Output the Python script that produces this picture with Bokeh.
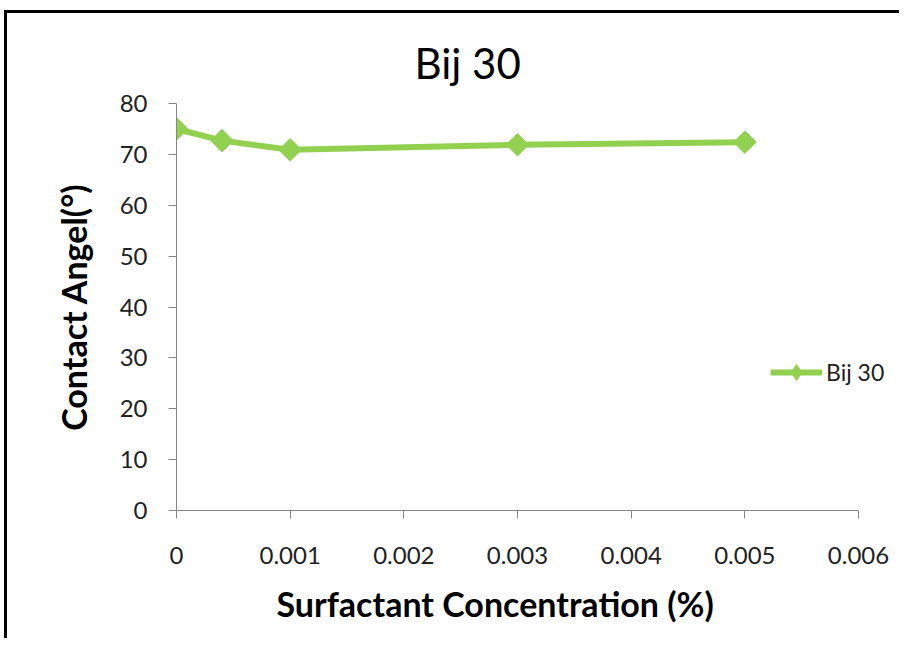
import numpy as np
from bokeh.plotting import figure
from bokeh.models import ColumnDataSource, Legend, LegendItem, Range1d, FixedTicker, Title
from bokeh.embed import file_html
from bokeh.resources import INLINE

# data
concentration = [0.0, 0.0004, 0.001, 0.003, 0.005]
contact_angle = [75.0, 72.7, 70.9, 71.9, 72.4]
series_name = "Bij 30"
x_title = "Surfactant Concentration (%)"
y_title = "Contact Angel(°)"
x_ticks = [0, 0.001, 0.002, 0.003, 0.004, 0.005, 0.006]
x_tick_labels = ["0", "0.001", "0.002", "0.003", "0.004", "0.005", "0.006"]
y_ticks = [0, 10, 20, 30, 40, 50, 60, 70, 80]

GREEN = "#92D050"
FONT = "Lato"

# layout: axis spans 682 px for x_ticks range; frame widened to 724 px so the
# legend (which sits past the last tick) stays inside the drawing area
AXIS_PX, FRAME_PX = 682, 724
x_end = x_ticks[-1] * FRAME_PX / AXIS_PX

W, H = 895, 628
p = figure(width=W, height=H, output_backend="svg", toolbar_location=None,
           x_range=Range1d(x_ticks[0], x_end), y_range=Range1d(y_ticks[0], y_ticks[-1]),
           min_border_left=169, min_border_right=W - 169 - FRAME_PX, min_border_top=90,
           min_border_bottom=131)
p.margin = (10, 0, 0, 4)
p.styles = {"border-left": "3px solid black", "border-top": "3px solid black"}

src = ColumnDataSource(dict(x=concentration, y=contact_angle))
ln = p.line("x", "y", source=src, line_color=GREEN, line_width=6, line_join="round")
# diamond used for the legend swatch; sits beneath the larger markers
mk_leg = p.scatter("x", "y", source=src, marker="diamond", size=17,
                   fill_color=GREEN, line_color=GREEN)
mk = p.scatter("x", "y", source=src, marker="square", angle=np.pi / 4, size=16,
               fill_color=GREEN, line_color=GREEN)

p.title.text = series_name
p.title.align = "left"
p.title.offset = 238
p.title.text_font = FONT
p.title.text_font_style = "normal"
p.title.text_font_size = "42px"
p.title.text_color = "#000000"
p.title.standoff = 32

p.outline_line_color = None
p.xgrid.grid_line_color = None
p.ygrid.grid_line_color = None
p.background_fill_color = "white"

for ax in (p.xaxis[0], p.yaxis[0]):
    ax.axis_line_color = "#868686"
    ax.major_tick_line_color = "#868686"
    ax.minor_tick_line_color = None
    ax.major_tick_in = 0
    ax.major_tick_out = 8
    ax.major_label_text_font = FONT
    ax.major_label_text_font_size = "24px"
    ax.major_label_text_color = "#222222"
    ax.axis_label_text_font = FONT
    ax.axis_label_text_font_style = "bold"
    ax.axis_label_text_color = "#000000"

p.xaxis.ticker = FixedTicker(ticks=x_ticks)
p.xaxis.bounds = (x_ticks[0], x_ticks[-1])
p.xaxis.major_label_overrides = {t: l for t, l in zip(x_ticks, x_tick_labels)}
p.xaxis.major_label_standoff = 28

xt = Title(text=x_title, align="left", offset=100, text_font=FONT,
           text_font_style="bold", text_font_size="34px", text_color="#000000",
           standoff=28)
p.add_layout(xt, "below")

p.yaxis.ticker = FixedTicker(ticks=y_ticks)
p.yaxis.major_label_standoff = 21
p.yaxis.axis_label = y_title
p.yaxis.axis_label_text_font_size = "34px"
p.yaxis.axis_label_standoff = 23

legend = Legend(items=[LegendItem(label=series_name, renderers=[ln, mk_leg])],
                location=(594, 118), orientation="vertical")
legend.border_line_color = None
legend.background_fill_alpha = 0
legend.padding = 0
legend.margin = 0
legend.glyph_width = 52
legend.glyph_height = 40
legend.label_height = 40
legend.label_standoff = 4
legend.label_text_font = FONT
legend.label_text_font_size = "23px"
legend.label_text_color = "#222222"
p.add_layout(legend, "center")

open("out.html", "w").write(file_html(p, INLINE))
